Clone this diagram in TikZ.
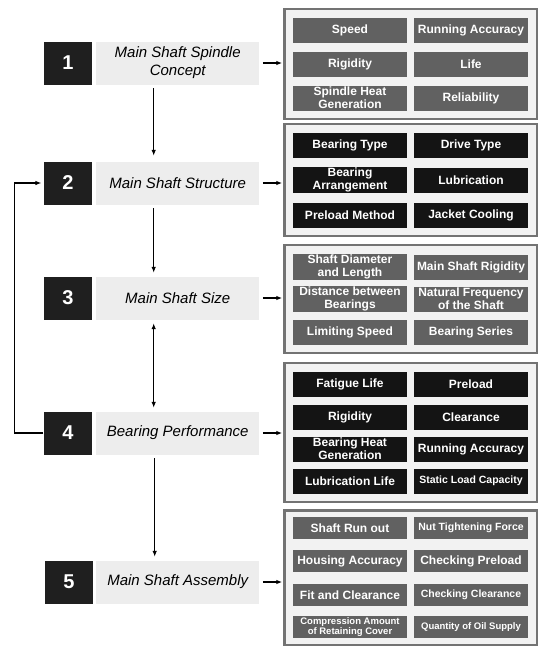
\documentclass[tikz,border=0pt]{standalone}
\usepackage{fontspec}
\setmainfont{Liberation Sans}
\usetikzlibrary{positioning, fit, backgrounds, arrows.meta, calc}

\begin{document}
\begin{tikzpicture}[
    x=1pt, y=-1pt,
    >={Latex[length=6pt, width=4.5pt]}, line width=1.2pt,
    stepnum/.style={fill=black!88, text=white, minimum width=48pt, minimum height=43pt, inner sep=0pt, font=\fontsize{20}{20}\selectfont\bfseries},
    stepname/.style={fill=black!7, minimum width=163pt, minimum height=43pt, inner sep=0pt, align=center, font=\fontsize{15}{18}\selectfont\itshape},
    detail/.style={minimum width=114pt, minimum height=25pt, inner sep=1pt, align=center, text=white, font=\fontsize{12}{13}\selectfont\bfseries},
    detailgray/.style={detail, fill=black!62},
    detaildark/.style={detail, fill=black!92},
    smalltext/.style={font=\fontsize{10.5}{11}\selectfont\bfseries},
    smallertext/.style={font=\fontsize{9.5}{10.5}\selectfont\bfseries},
    group/.style={draw=black!55, line width=2.2pt, fill=black!5, inner sep=8pt}
]
\useasboundingbox (0,0) rectangle (539,649);
% steps on the left
\node[stepnum] (N1) at (68, 63) {1};
\node[stepnum] (N2) at (68, 183) {2};
\node[stepnum] (N3) at (68, 298) {3};
\node[stepnum] (N4) at (68, 433) {4};
\node[stepnum] (N5) at (69, 582) {5};
\node[stepname, right=3pt of N1] (L1) {Main Shaft Spindle\\Concept};
\node[stepname, right=3pt of N2] (L2) {Main Shaft Structure};
\node[stepname, right=3pt of N3] (L3) {Main Shaft Size};
\node[stepname, right=3pt of N4] (L4) {Bearing Performance};
\node[stepname, right=2pt of N5] (L5) {Main Shaft Assembly};
% spindle concept
\node[detailgray] (C11) at (350, 30) {Speed};
\node[detailgray] (C12) at (471, 30) {Running Accuracy};
\node[detailgray] (C21) at (350, 64) {Rigidity};
\node[detailgray] (C22) at (471, 64) {Life};
\node[detailgray] (C31) at (350, 98) {Spindle Heat\\Generation};
\node[detailgray] (C32) at (471, 98) {Reliability};
% structure
\node[detaildark] (S11) at (350, 145) {Bearing Type};
\node[detaildark] (S12) at (471, 145) {Drive Type};
\node[detaildark] (S21) at (350, 180) {Bearing\\Arrangement};
\node[detaildark] (S22) at (471, 180) {Lubrication};
\node[detaildark] (S31) at (350, 215) {Preload Method};
\node[detaildark] (S32) at (471, 215) {Jacket Cooling};
% size
\node[detailgray] (Z11) at (350, 267) {Shaft Diameter\\and Length};
\node[detailgray] (Z12) at (471, 267) {Main Shaft Rigidity};
\node[detailgray] (Z21) at (350, 299) {Distance between\\Bearings};
\node[detailgray] (Z22) at (471, 299) {Natural Frequency\\of the Shaft};
\node[detailgray] (Z31) at (350, 332) {Limiting Speed};
\node[detailgray] (Z32) at (471, 332) {Bearing Series};
% bearing performance
\node[detaildark] (P11) at (350, 384) {Fatigue Life};
\node[detaildark] (P12) at (471, 384) {Preload};
\node[detaildark] (P21) at (350, 417) {Rigidity};
\node[detaildark] (P22) at (471, 417) {Clearance};
\node[detaildark] (P31) at (350, 449) {Bearing Heat\\Generation};
\node[detaildark] (P32) at (471, 449) {Running Accuracy};
\node[detaildark] (P41) at (350, 481) {Lubrication Life};
\node[detaildark, smalltext] (P42) at (471, 481) {Static Load Capacity};
% assembly
\node[detailgray, minimum height=22pt] (A11) at (350, 528) {Shaft Run out};
\node[detailgray, minimum height=22pt, smalltext] (A12) at (471, 528) {Nut Tightening Force};
\node[detailgray, minimum height=22pt] (A21) at (350, 561) {Housing Accuracy};
\node[detailgray, minimum height=22pt] (A22) at (471, 561) {Checking Preload};
\node[detailgray, minimum height=22pt] (A31) at (350, 595) {Fit and Clearance};
\node[detailgray, minimum height=22pt, smalltext] (A32) at (471, 595) {Checking Clearance};
\node[detailgray, minimum height=22pt, smallertext] (A41) at (350, 627) {Compression Amount\\of Retaining Cover};
\node[detailgray, minimum height=22pt, smallertext] (A42) at (471, 627) {Quantity of Oil Supply};
\begin{scope}[on background layer]
    \node[group, fit=(C11)(C32)] (G1) {};
    \node[group, fit=(S11)(S32)] (G2) {};
    \node[group, fit=(Z11)(Z32)] (G3) {};
    \node[group, fit=(P11)(P42)] (G4) {};
    \node[group, fit=(A11)(A42), inner ysep=6pt] (G5) {};
\end{scope}
% flow
\draw[->, shorten <=3pt, shorten >=5pt] ([xshift=-24pt]L1.south) -- ([xshift=-24pt]L2.north);
\draw[->, shorten <=3pt, shorten >=3pt] ([xshift=-24pt]L2.south) -- ([xshift=-24pt]L3.north);
\draw[<->, shorten <=3pt, shorten >=3pt] ([xshift=-24pt]L3.south) -- ([xshift=-24pt]L4.north);
\draw[->, shorten <=3pt, shorten >=3pt] ([xshift=-23pt]L4.south) -- ([xshift=-23pt]L5.north);
\draw[->, shorten >=2pt] (N4.west) -- ++(-29,0) |- (N2.west);
\draw[->, shorten <=3pt, shorten >=1pt] (L1.east) -- (L1.east -| G1.west);
\draw[->, shorten <=3pt, shorten >=1pt] (L2.east) -- (L2.east -| G2.west);
\draw[->, shorten <=3pt, shorten >=1pt] (L3.east) -- (L3.east -| G3.west);
\draw[->, shorten <=3pt, shorten >=1pt] (L4.east) -- (L4.east -| G4.west);
\draw[->, shorten <=3pt, shorten >=1pt] (L5.east) -- (L5.east -| G5.west);
\end{tikzpicture}
\end{document}
